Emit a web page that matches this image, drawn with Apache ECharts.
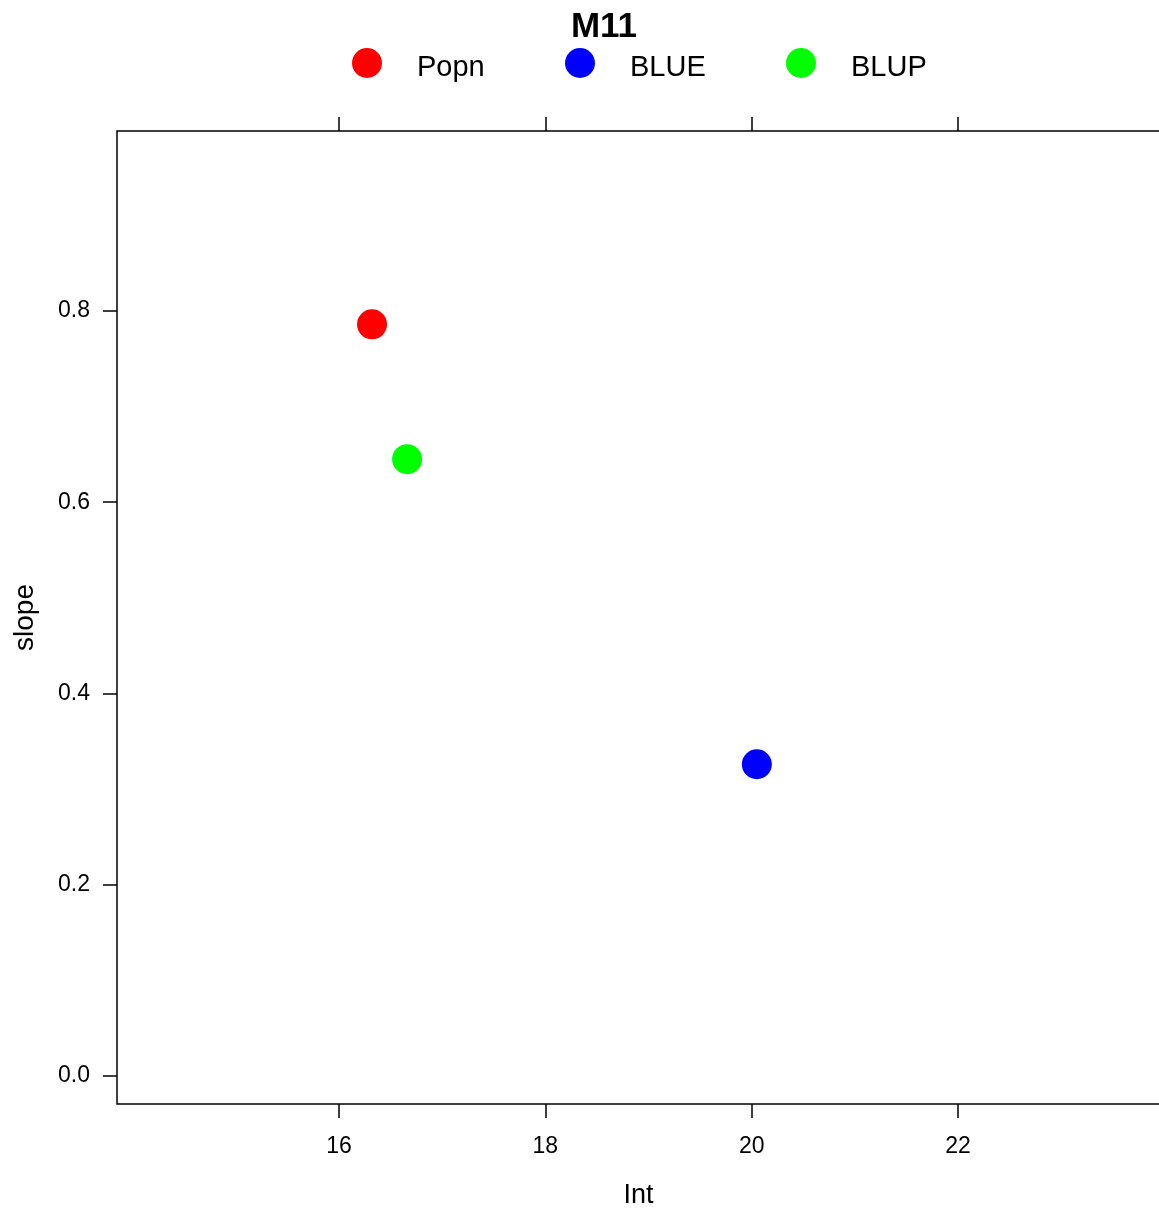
<!DOCTYPE html>
<html>
<head>
<meta charset="utf-8">
<script src="https://cdn.jsdelivr.net/npm/echarts@6/dist/echarts.min.js"></script>
<style>html,body{margin:0;padding:0;background:#fff}#c{width:1159px;height:1210px}</style>
</head>
<body>
<div id="c"></div>
<script>
const seriesNames = ['Popn', 'BLUE', 'BLUP'];
const seriesColors = ['#ff0000', '#0000ff', '#00ff00'];
const intValues = [16.32, 20.05, 16.66];
const slopeValues = [0.786, 0.326, 0.645];
const xTicks = [16, 18, 20, 22];
const yTicks = [0.0, 0.2, 0.4, 0.6, 0.8];

const font = 'Liberation Sans, Arial, sans-serif';
const chart = echarts.init(document.getElementById('c'), null, {renderer: 'canvas'});
const legendLefts = [347, 560, 781];
chart.setOption({
  animation: false,
  backgroundColor: '#fff',
  title: {
    text: 'M11', left: 599, top: 5, textAlign: 'center',
    textStyle: {fontFamily: font, fontWeight: 'bold', fontSize: 35, color: '#000'}
  },
  legend: seriesNames.map((n, i) => ({
    data: [n], left: legendLefts[i], top: 43, itemWidth: 30, itemHeight: 30,
    icon: 'circle', selectedMode: false,
    formatter: '{a|{name}}',
    textStyle: {fontFamily: font, fontSize: 29, color: '#000', padding: [0, 0, 0, 30],
      rich: {a: {fontFamily: font, fontSize: 29, color: '#000', padding: [10, 0, 0, 0]}}}
  })),
  grid: {left: 117, top: 131, width: 1043, height: 973, containLabel: false, outerBoundsMode: 'none',
    show: true, borderColor: '#000', borderWidth: 1.5, backgroundColor: 'transparent'},
  xAxis: [{
    type: 'value', min: 13.848, max: 23.958, position: 'bottom',
    name: 'Int', nameLocation: 'middle', nameGap: 78,
    nameTextStyle: {fontFamily: font, fontSize: 27, color: '#000'},
    splitLine: {show: false},
    axisLine: {show: false, onZero: false},
    axisTick: {show: true, inside: false, length: 14, customValues: xTicks, lineStyle: {color: '#000', width: 1.5}},
    axisLabel: {customValues: xTicks, margin: 31, fontFamily: font, fontSize: 23, color: '#000'}
  }, {
    type: 'value', min: 13.848, max: 23.958, position: 'top',
    splitLine: {show: false}, axisLine: {show: false, onZero: false},
    axisTick: {show: true, inside: false, length: 14, customValues: xTicks, lineStyle: {color: '#000', width: 1.5}},
    axisLabel: {show: false}
  }],
  yAxis: [{
    type: 'value', min: -0.0293, max: 0.9882, position: 'left',
    name: 'slope', nameLocation: 'middle', nameGap: 78, nameRotate: 90,
    nameTextStyle: {fontFamily: font, fontSize: 28, color: '#000'},
    splitLine: {show: false}, axisLine: {show: false, onZero: false},
    axisTick: {show: true, inside: false, length: 14, customValues: yTicks, lineStyle: {color: '#000', width: 1.5}},
    axisLabel: {customValues: yTicks, margin: 27, fontFamily: font, fontSize: 23, color: '#000',
      formatter: v => Number(v).toFixed(1)}
  }],
  series: seriesNames.map((n, i) => ({
    name: n, type: 'scatter', xAxisIndex: 0, yAxisIndex: 0,
    symbol: 'circle', symbolSize: 30,
    itemStyle: {color: seriesColors[i], opacity: 1},
    data: [[intValues[i], slopeValues[i]]]
  }))
});
</script>
</body>
</html>
